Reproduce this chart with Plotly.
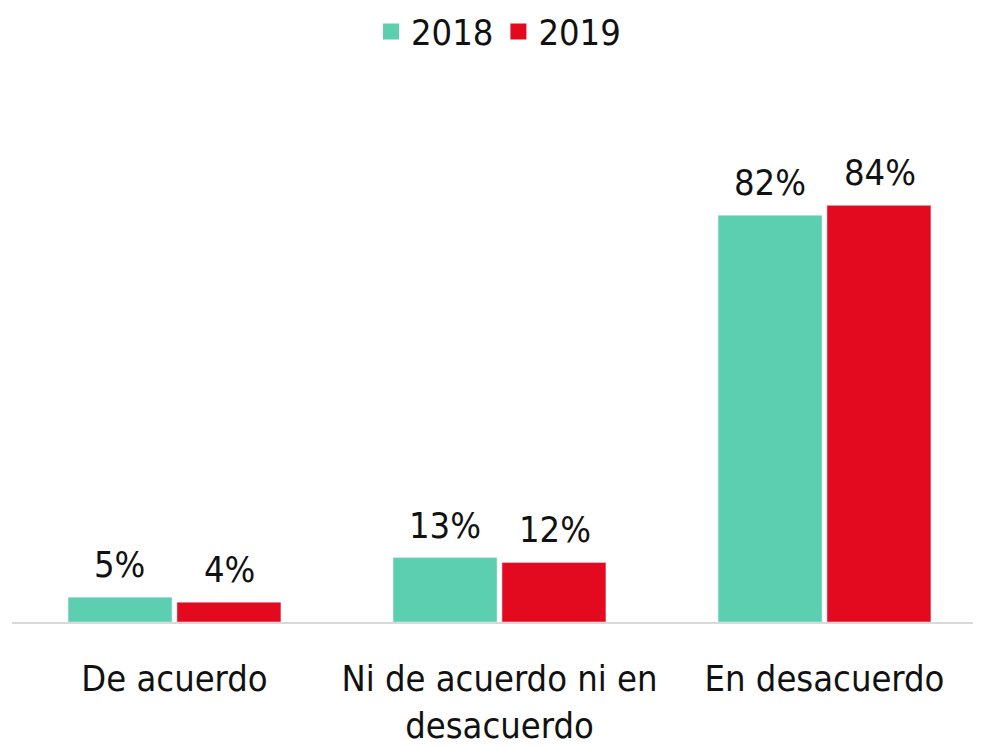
import plotly.graph_objects as go

# data
categories = ["De acuerdo", "Ni de acuerdo ni en<br>desacuerdo", "En desacuerdo"]
series = ["2018", "2019"]
vals_2018 = [5, 13, 82]
vals_2019 = [4, 12, 84]
colors = ["#5DCFB1", "#E30A20"]

font = "DejaVu Sans Condensed, Open Sans, sans-serif"

fig = go.Figure()
for i, (name, vals, col) in enumerate(zip(series, [vals_2018, vals_2019], colors)):
    fig.add_trace(go.Bar(x=categories, y=vals, name=name, marker_color=col,
                         showlegend=False))
    # legend entry with a bigger square marker
    fig.add_trace(go.Scatter(x=[None], y=[None], mode="markers", name=name,
                             marker=dict(symbol="square", size=24, color=col)))
    # value labels, a little higher above the bars than the default
    for cat, v in zip(categories, vals):
        fig.add_annotation(x=cat, y=v, text=f"{v}%", showarrow=False,
                           yanchor="bottom", yshift=10, xshift=-55 if i == 0 else 55,
                           font=dict(size=36))

fig.update_layout(
    width=981, height=746,
    margin=dict(l=4, r=2, t=118, b=132, autoexpand=False),
    plot_bgcolor="white", paper_bgcolor="white",
    font=dict(family=font, size=36, color="#111111"),
    barmode="group", bargap=0.33, bargroupgap=0.045,
    legend=dict(orientation="h", x=0.5, xanchor="center", xref="container",
                y=1.251, yanchor="top", yref="paper",
                font=dict(size=36), itemwidth=30),
)
fig.update_xaxes(showline=True, linecolor="#D9D9D9", linewidth=2, ticks="",
                 tickfont=dict(size=36), automargin=False, ticklabelstandoff=24)
fig.update_yaxes(range=[0, 100], visible=False, showgrid=False)

fig.write_html("out.html")
